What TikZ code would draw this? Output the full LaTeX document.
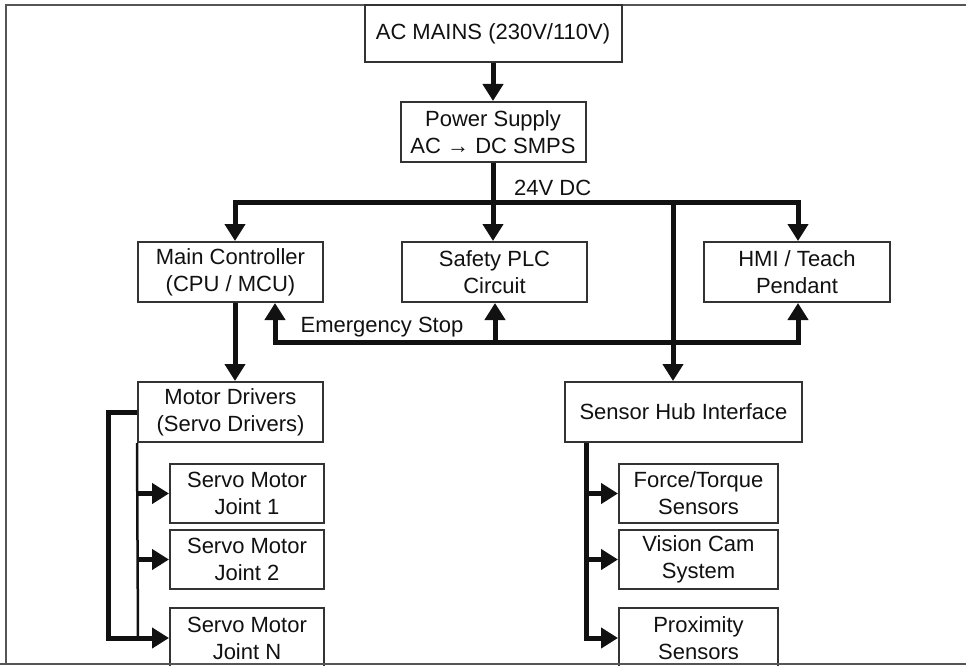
\documentclass[tikz,border=0pt]{standalone}
\usepackage{fontspec}
\setmainfont{Liberation Sans}
\usetikzlibrary{arrows.meta}
\definecolor{boxline}{HTML}{333333}
\definecolor{ink}{HTML}{111111}
\definecolor{framecol}{HTML}{555555}
\begin{document}
\begin{tikzpicture}[x=1pt,y=-1pt,
  box/.style={draw=boxline,line width=2pt,fill=white,align=center,inner sep=0pt,
    font=\fontsize{22}{27}\selectfont,text=ink},
  conn/.style={draw=ink,line width=5pt},
  tip/.tip={Triangle[length=17pt,width=20pt]},
  arr/.style={conn,-tip},
  thinconn/.style={draw=ink,line width=2.5pt},
  lbl/.style={font=\fontsize{22}{27}\selectfont,text=ink,inner sep=0pt}]
\useasboundingbox (0,0) rectangle (966,666);
\begin{scope}
\clip (0,0) rectangle (966,666);
\draw[draw=framecol,line width=2pt] (6,5) rectangle (1000,664);

% nodes
\node[box,minimum width=257pt,minimum height=57pt] (ac) at (493,33.5) {AC MAINS (230V/110V)};
\node[box,minimum width=185pt,minimum height=60pt] (ps) at (493,132) {Power Supply\\AC → DC SMPS};
\node[box,minimum width=185pt,minimum height=60pt] (mc) at (230.5,272) {Main Controller\\(CPU / MCU)};
\node[box,minimum width=185pt,minimum height=60pt] (plc) at (494.5,272) {Safety PLC\\Circuit};
\node[box,minimum width=186pt,minimum height=60pt] (hmi) at (797,272) {HMI / Teach\\Pendant};
\node[box,minimum width=185pt,minimum height=60pt] (md) at (230.5,412) {Motor Drivers\\(Servo Drivers)};
\node[box,minimum width=237pt,minimum height=60pt] (sh) at (683.5,412) {Sensor Hub Interface};
\node[box,minimum width=154pt,minimum height=59pt] (j1) at (247,493.5) {Servo Motor\\Joint 1};
\node[box,minimum width=154pt,minimum height=59pt] (j2) at (247,559.5) {Servo Motor\\Joint 2};
\node[box,minimum width=154pt,minimum height=60pt] (jn) at (247,638) {Servo Motor\\Joint N};
\node[box,minimum width=159pt,minimum height=59pt] (ft) at (698.5,493.5) {Force/Torque\\Sensors};
\node[box,minimum width=159pt,minimum height=59pt] (vc) at (698.5,559.5) {Vision Cam\\System};
\node[box,minimum width=159pt,minimum height=60pt] (px) at (698.5,638) {Proximity\\Sensors};

\node[lbl,anchor=west] (dc) at (514,188) {24V DC};
\node[lbl] (es) at (382,327) {Emergency Stop};

% coordinates
\coordinate (bl) at (235,202);
\coordinate (br) at (798,202);
\coordinate (bp) at (493,202);
\coordinate (bs) at (673,202);
\coordinate (el) at (275,342);
\coordinate (er) at (798,342);
\coordinate (ep) at (495,342);
\coordinate (mdl) at (108,412);
\coordinate (mdb) at (108,638);
\coordinate (mt) at (138,638);
\coordinate (m1) at (138,493.5);
\coordinate (m2) at (138,559.5);
\coordinate (s1) at (586,493.5);
\coordinate (s2) at (586,559.5);
\coordinate (s3) at (586,638);

% connectors
\draw[arr] (ac) -- (ps);
\draw[conn] (ps.south) -- (bp);
\draw[conn,tip-tip] (mc.north -| bl) -- (bl) -- (br) -- (hmi.north -| br);
\draw[arr] (bp) -- (bp |- plc.north);
\draw[arr] (bs) -- (bs |- sh.north);

\draw[conn,tip-tip] (mc.south -| el) -- (el) -- (er) -- (hmi.south -| er);
\draw[arr] (ep) -- (ep |- plc.south);

\draw[arr] (mc.south -| bl) -- (md.north -| bl);

\draw[thinconn] (md.south west) -- (mt);
\draw[arr] (m1) -- (j1.west);
\draw[arr] (m2) -- (j2.west);
\draw[conn,-tip] (md.west) -- (mdl) -- (mdb) -- (jn.west);

\draw[arr] (s1) -- (ft.west);
\draw[arr] (s2) -- (vc.west);
\draw[conn,-tip] (sh.south -| s3) -- (s3) -- (px.west);

\draw[draw=framecol,line width=2pt] (0,664) -- (966,664);
\end{scope}
\end{tikzpicture}
\end{document}
